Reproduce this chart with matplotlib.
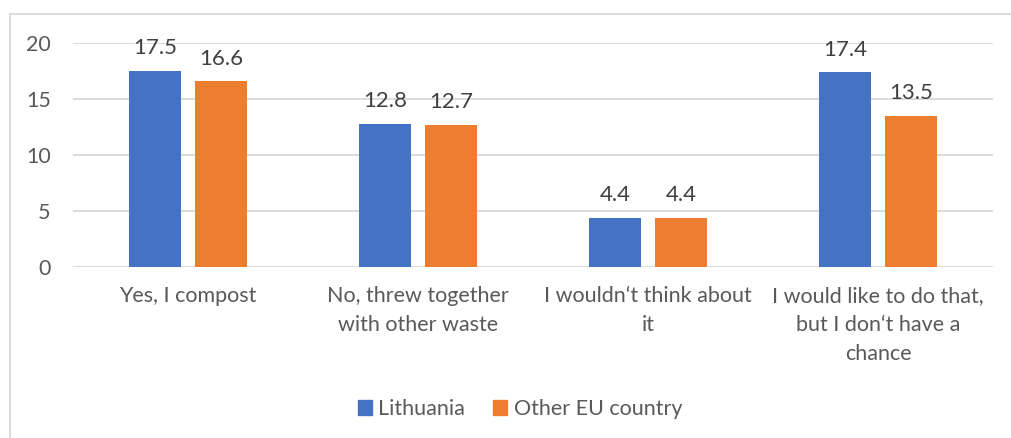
import matplotlib
matplotlib.use("Agg")
import matplotlib.pyplot as plt
import numpy as np
from matplotlib.lines import Line2D
from matplotlib.patches import Patch

categories = ["Yes, I compost", "No, threw together\nwith other waste",
              "I wouldn\u2018t think about\nit", "I would like to do that,\nbut I don\u2018t have a\nchance"]
series_names = ["Lithuania", "Other EU country"]
lithuania = [17.5, 12.8, 4.4, 17.4]
other_eu = [16.6, 12.7, 4.4, 13.5]
yticks = [0, 5, 10, 15, 20]

plt.rcParams['font.family'] = ['Lato', 'DejaVu Sans']

W, H = 1011, 438
fig = plt.figure(figsize=(W/100, H/100), dpi=100)
ax = fig.add_axes([73/W, (H-267)/H, (993-73)/W, (267-43)/H])

FS = 15.5
x = np.arange(len(categories))
bw = 0.226
off = 0.1435
blue = "#4472C4"
orange = "#ED7D31"
b1 = ax.bar(x - off, lithuania, bw, color=blue, zorder=3)
b2 = ax.bar(x + off, other_eu, bw, color=orange, zorder=3)
for bars, vals in ((b1, lithuania), (b2, other_eu)):
    for r, v in zip(bars, vals):
        ax.annotate(f"{v}", (r.get_x() + r.get_width()/2, v), xytext=(0, 9),
                    textcoords="offset points", ha="center", va="bottom",
                    fontsize=16, color="#404040")

ax.set_xlim(-0.5, len(categories) - 0.5)
ax.set_ylim(0, 20)
ax.set_yticks(yticks)
ax.set_yticklabels([str(t) for t in yticks], fontsize=FS, color="#595959")
ax.set_xticks(x)
ax.set_xticklabels(categories, fontsize=FS, color="#595959", linespacing=1.55)
ax.tick_params(axis='both', length=0)
ax.tick_params(axis='y', pad=16)
ax.tick_params(axis='x', pad=14)
ax.grid(axis='y', color="#D9D9D9", linewidth=1.3, zorder=0)
for s in ax.spines.values():
    s.set_visible(False)

handles = [Patch(color=blue), Patch(color=orange)]
fig.legend(handles, series_names, loc="center", bbox_to_anchor=(520/W, 1 - 409/H),
           ncol=2, frameon=False, fontsize=FS, handlelength=0.65, handleheight=0.65,
           handletextpad=0.3, columnspacing=1.3, labelcolor="#595959")

# outer chart border
fig.add_artist(Line2D([10/W, 10/W], [0, 1 - 14/H], color="#D9D9D9", linewidth=1.3))
fig.add_artist(Line2D([10/W, 1], [1 - 14/H, 1 - 14/H], color="#D9D9D9", linewidth=1.3))

fig.savefig("out.png", dpi=100, facecolor="white")
